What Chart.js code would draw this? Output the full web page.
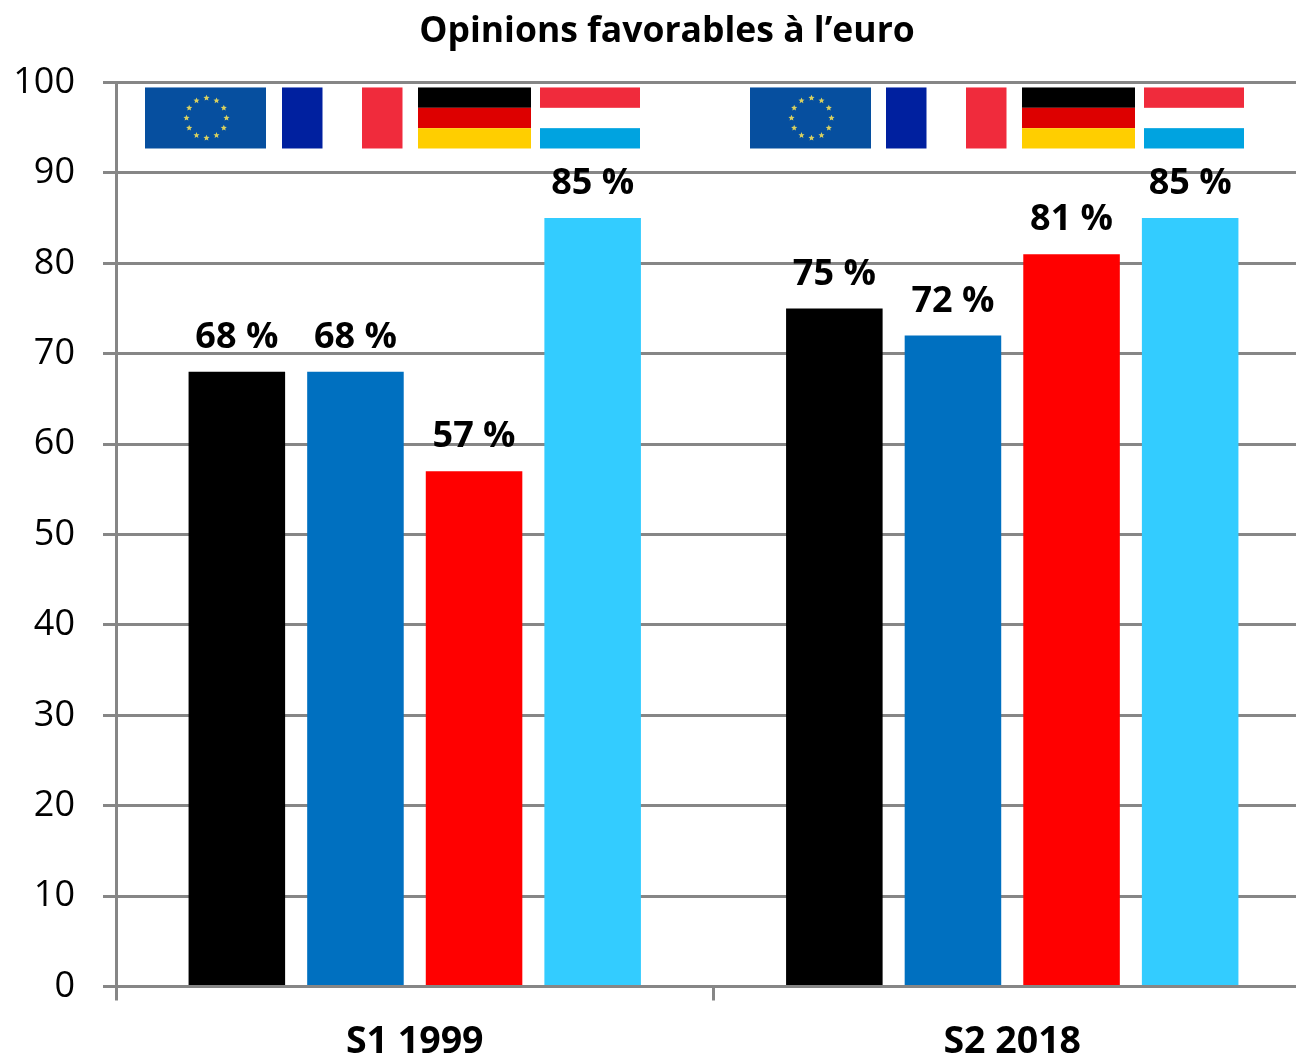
<!DOCTYPE html>
<html><head><meta charset="utf-8">
<script src="https://cdn.jsdelivr.net/npm/chart.js@4"></script>
<style>html,body{margin:0;padding:0;background:#fff;overflow:hidden}#w{position:absolute;left:0;top:0;width:1296px;height:1057px;overflow:hidden}canvas{display:block}</style>
</head><body><div id="w"><canvas id="c" width="1334" height="1057" style="width:1334px;height:1057px"></canvas></div>
<script>
const title = "Opinions favorables à l’euro";
const categories = ["S1 1999", "S2 2018"];
const seriesNames = ["UE", "France", "Allemagne", "Luxembourg"];
const ue = [68, 75];
const france = [68, 72];
const allemagne = [57, 81];
const luxembourg = [85, 85];
const colors = ["#000000", "#0070C0", "#FF0000", "#33CCFF"];
const yTicks = [0,10,20,30,40,50,60,70,80,90,100];
const font = '"Open Sans","Noto Sans",sans-serif';

function star(ctx, cx, cy, r){
  ctx.beginPath();
  for (let i = 0; i < 10; i++) {
    const a = -Math.PI/2 + i*Math.PI/5, q = i%2 ? r*0.45 : r;
    ctx.lineTo(cx + q*Math.cos(a), cy + q*Math.sin(a));
  }
  ctx.closePath(); ctx.fill();
}
function drawFlags(ctx, sc, x0, shift){
  const top = sc.getPixelForValue(99.45), bot = sc.getPixelForValue(92.7), h = bot - top;
  let x = x0;
  ctx.fillStyle = "#064F9F"; ctx.fillRect(x, top, 121, h);
  const cx = x + 61.5, cy = top + h/2;
  ctx.fillStyle = "#D8D060";
  for (let i = 0; i < 12; i++) {
    const a = i * Math.PI / 6;
    star(ctx, cx + 20*Math.cos(a), cy + 20*Math.sin(a), 3.2);
  }
  x = x0 + shift + 137;
  ctx.fillStyle = "#00209F"; ctx.fillRect(x, top, 40.5, h);
  ctx.fillStyle = "#F02B3C"; ctx.fillRect(x + 80, top, 40.5, h);
  x = x0 + shift + 273;
  ctx.fillStyle = "#000000"; ctx.fillRect(x, top, 113, h/3);
  ctx.fillStyle = "#DD0000"; ctx.fillRect(x, top + h/3, 113, h/3);
  ctx.fillStyle = "#FFCE00"; ctx.fillRect(x, top + 2*h/3, 113, h/3);
  x = x0 + shift + 395;
  ctx.fillStyle = "#F02B3C"; ctx.fillRect(x, top, 100, h/3);
  ctx.fillStyle = "#00A3E0"; ctx.fillRect(x, top + 2*h/3, 100, h/3);
}

const overlay = {
  id: "overlay",
  afterLayout(chart){
    chart.titleBlock.right = chart.width;
  },
  afterDatasetsDraw(chart){
    const {ctx, scales:{x, y}} = chart;
    ctx.save();
    chart.data.datasets.forEach((ds, i) => {
      chart.getDatasetMeta(i).data.forEach((bar, j) => {
        ctx.font = 'bold 36px ' + font;
        ctx.fillStyle = "#000"; ctx.textAlign = "center"; ctx.textBaseline = "alphabetic";
        ctx.fillText(ds.data[j] + " %", bar.x, bar.y - 24);
      });
    });
    const half = (x.getPixelForValue(1) - x.getPixelForValue(0)) / 2;
    drawFlags(ctx, y, x.getPixelForValue(0) - half + 29, 0);
    drawFlags(ctx, y, x.getPixelForValue(1) - half + 36.5, -1);
    ctx.restore();
  }
};

new Chart(document.getElementById("c"), {
  type: "bar",
  plugins: [overlay],
  data: { labels: categories,
    datasets: seriesNames.map((n, i) => ({ label: n, data: [ue, france, allemagne, luxembourg][i], backgroundColor: colors[i], borderWidth: 0 })) },
  options: {
    responsive: false, animation: false, devicePixelRatio: 1,
    layout: { padding: { left: 0, right: 23, top: 0, bottom: 0 } },
    datasets: { bar: { categoryPercentage: 0.794, barPercentage: 0.814 } },
    plugins: { legend: { display: false }, tooltip: { enabled: false },
      title: { display: true, text: title, color: "#000", font: { family: font, size: 35.5, weight: "bold" }, padding: { top: 11, bottom: 28.9 } } },
    scales: {
      x: { afterFit(s){ s.height = 70.5; },
           grid: { display: true, drawOnChartArea: false, drawTicks: true, tickLength: 14, color: "#868686", lineWidth: 3 }, border: { color: "#868686", width: 3 },
           ticks: { color: "#000", font: { family: font, size: 37.5, weight: "bold" }, padding: 19, maxRotation: 0 } },
      y: { min: 0, max: 100, afterFit(s){ s.width = 116; }, afterBuildTicks(a){ a.ticks = yTicks.map(v => ({ value: v })); },
           grid: { color: "#868686", lineWidth: 3, tickLength: 13 }, border: { color: "#868686", width: 3 },
           ticks: { color: "#000", font: { family: font, size: 36 }, padding: 28 } }
    }
  }
});
</script></body></html>
